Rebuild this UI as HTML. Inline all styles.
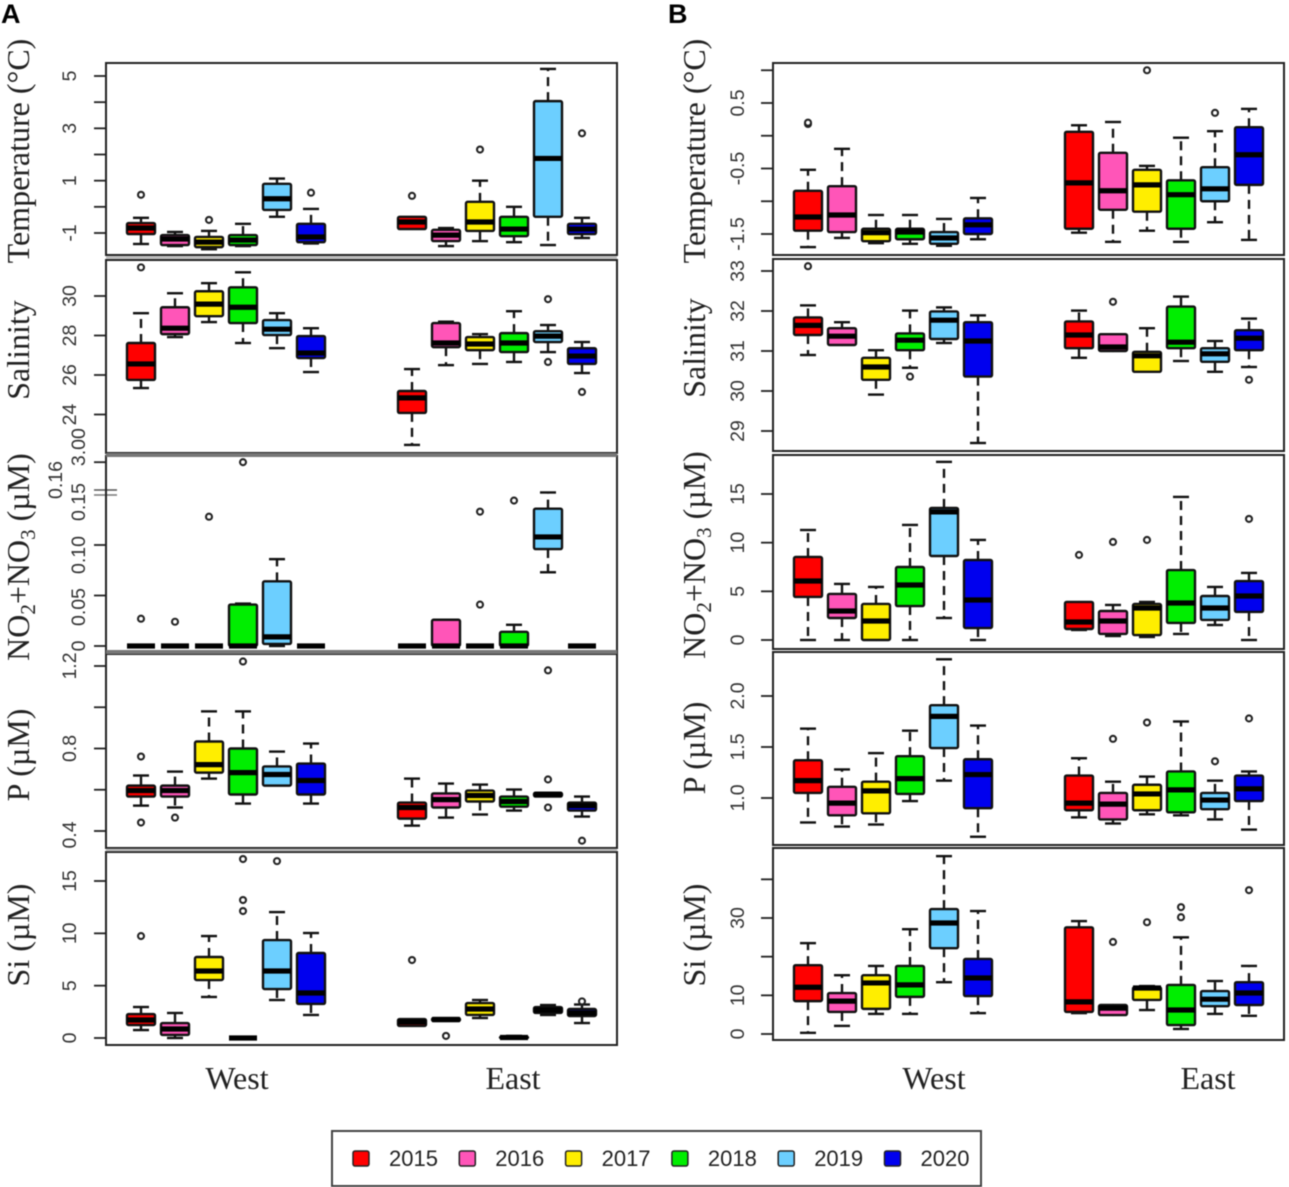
<!DOCTYPE html>
<html lang="en">
<head>
<meta charset="utf-8">
<title>Boxplots of water properties, West and East, 2015–2020</title>
<style>
html,body{margin:0;padding:0;background:#fff;width:1289px;height:1187px;overflow:hidden}
svg{display:block;filter:blur(0.6px)}
.ax{font-family:"Liberation Serif",serif;font-size:32px;fill:#222}
.grp{font-family:"Liberation Serif",serif;font-size:32px;fill:#222}
.tick{font-family:"Liberation Sans",sans-serif;font-size:19.5px;fill:#333}
.leg{font-family:"Liberation Sans",sans-serif;font-size:22px;fill:#222}
.pl{font-family:"Liberation Sans",sans-serif;font-size:27px;font-weight:bold;fill:#000}
</style>
</head>
<body>
<svg id="chart" xmlns="http://www.w3.org/2000/svg" width="1289" height="1187" viewBox="0 0 1289 1187">
  <text class="pl" x="1" y="23">A</text>
  <text class="pl" x="668" y="23">B</text>

  <text class="ax" transform="translate(29,151) rotate(-90)" text-anchor="middle">Temperature (°C)</text>
  <text class="ax" transform="translate(29,350) rotate(-90)" text-anchor="middle">Salinity</text>
  <text class="ax" transform="translate(29,557) rotate(-90)" text-anchor="middle">NO<tspan dy="6" font-size="21">2</tspan><tspan dy="-6">+NO</tspan><tspan dy="6" font-size="21">3</tspan><tspan dy="-6"> (µM)</tspan></text>
  <text class="ax" transform="translate(29,755) rotate(-90)" text-anchor="middle">P (µM)</text>
  <text class="ax" transform="translate(29,935) rotate(-90)" text-anchor="middle">Si (µM)</text>

  <text class="ax" transform="translate(705,151) rotate(-90)" text-anchor="middle">Temperature (°C)</text>
  <text class="ax" transform="translate(705,348) rotate(-90)" text-anchor="middle">Salinity</text>
  <text class="ax" transform="translate(705,555) rotate(-90)" text-anchor="middle">NO<tspan dy="6" font-size="21">2</tspan><tspan dy="-6">+NO</tspan><tspan dy="6" font-size="21">3</tspan><tspan dy="-6"> (µM)</tspan></text>
  <text class="ax" transform="translate(705,748) rotate(-90)" text-anchor="middle">P (µM)</text>
  <text class="ax" transform="translate(705,935) rotate(-90)" text-anchor="middle">Si (µM)</text>

  <text class="grp" x="237" y="1089" text-anchor="middle">West</text>
  <text class="grp" x="513" y="1089" text-anchor="middle">East</text>
  <text class="grp" x="934" y="1089" text-anchor="middle">West</text>
  <text class="grp" x="1208" y="1089" text-anchor="middle">East</text>

  <text class="tick" transform="translate(62,480) rotate(-90)" text-anchor="middle">0.16</text>
  <line x1="94" x2="117" y1="490" y2="490" stroke="#555" stroke-width="1.5"/>
  <line x1="94" x2="117" y1="495" y2="495" stroke="#777" stroke-width="1.5"/>

  <g id="plots"></g>
  <g id="legend"></g>
</svg>
<script>
// Categories
const years = ["2015", "2016", "2017", "2018", "2019", "2020"];
const regions = ["west", "east"];
const yearColors = ["#ff0000", "#ff55b8", "#ffee00", "#00ee00", "#6ccfff", "#0000ee"];

// Each row: whisker-low, q1, median, q3, whisker-high, then any outliers.
// Twelve rows: six West years, then six East years.
const tempA = [
  [-1.42,-1.04,-0.81,-0.62,-0.42,0.46],[-1.5,-1.46,-1.23,-1.08,-0.96],[-1.62,-1.54,-1.35,-1.15,-0.92,-0.5],
  [-1.5,-1.46,-1.27,-1.08,-0.65],[-0.38,-0.12,0.31,0.88,1.08],[-1.4,-1.35,-1.15,-0.65,-0.08,0.54],
  [-0.85,-0.85,-0.58,-0.38,-0.38,0.42],[-1.5,-1.31,-1.08,-0.88,-0.81],[-1.31,-0.92,-0.58,0.19,1.0,2.19],
  [-1.35,-1.12,-0.85,-0.38,0],[-1.46,-0.38,1.85,4.04,5.27],[-1.19,-1.04,-0.85,-0.65,-0.42,2.81]
];
const salA = [
  [25.34,25.75,26.56,27.62,29.13,31.45],[27.92,28.07,28.37,29.43,30.14],[28.68,28.98,29.59,30.24,30.65],
  [27.62,28.63,29.43,30.44,31.2],[27.36,28.02,28.32,28.78,29.13],[26.15,26.86,27.11,27.97,28.37],
  [22.46,24.08,24.84,25.19,26.3],[26.5,27.41,27.62,28.63,28.7],[26.56,27.26,27.57,27.92,28.07],
  [26.66,27.16,27.62,28.12,29.23],[27.16,27.67,27.97,28.22,28.53,29.84,26.66],[26.1,26.56,26.96,27.36,27.67,25.14]
];
const nitA = [
  [0,0,0,0,0,0.027],[0,0,0,0,0,0.024],[0,0,0,0,0,0.128],
  [0,0,0,0.041,0.042,0.182],[0,0.002,0.009,0.064,0.086],[0,0,0,0,0],
  [0,0,0,0,0],[0,0,0,0.026,0.026],[0,0,0,0,0,0.133,0.041],
  [0,0,0,0.014,0.021,0.144],[0.073,0.096,0.108,0.136,0.152],[0,0,0,0,0]
];
const phoA = [
  [0.523,0.567,0.596,0.62,0.669,0.761,0.441],[0.514,0.567,0.596,0.62,0.688,0.465],[0.654,0.683,0.722,0.834,0.98],
  [0.533,0.577,0.683,0.8,0.98,1.222],[0.62,0.62,0.674,0.713,0.785],[0.533,0.577,0.645,0.727,0.824],
  [0.426,0.46,0.514,0.538,0.654],[0.465,0.514,0.552,0.582,0.63],[0.48,0.543,0.572,0.596,0.625],
  [0.499,0.518,0.543,0.567,0.601],[0.567,0.567,0.577,0.586,0.586,0.65,0.514,1.179],[0.47,0.499,0.523,0.538,0.567,0.353]
];
const silA = [
  [0.76,1.24,1.72,2.29,2.96,9.74],[0,0.29,0.86,1.43,2.39],[3.92,5.54,6.4,7.74,9.74],
  [0,0,0,0,0,17.1,13.18,12.13],[3.63,4.68,6.4,9.36,12.03,16.9],[2.2,3.25,4.3,8.12,10.03],
  [1.15,1.15,1.53,1.81,1.81,7.45],[1.62,1.62,1.77,1.9,1.9,0.2],[1.91,2.2,2.77,3.34,3.63],
  [0,0,0.05,0.1,0.2],[2.2,2.39,2.67,2.96,3.15],[1.43,2.1,2.39,2.77,3.2,3.5]
];
const tempB = [
  [-1.7,-1.45,-1.24,-0.84,-0.52,0.18,0.2],[-1.56,-1.47,-1.21,-0.77,-0.2],[-1.64,-1.61,-1.48,-1.42,-1.21],
  [-1.65,-1.58,-1.47,-1.42,-1.21],[-1.68,-1.65,-1.56,-1.47,-1.27],[-1.58,-1.5,-1.36,-1.26,-0.95],
  [-1.48,-1.42,-0.72,0.06,0.16],[-1.62,-1.13,-0.84,-0.26,0.21],[-1.45,-1.16,-0.75,-0.52,-0.46,1.0],
  [-1.62,-1.42,-0.9,-0.68,-0.03],[-1.32,-1,-0.81,-0.48,0.07,0.35],[-1.59,-0.75,-0.29,0.13,0.41]
];
const salB = [
  [30.9,31.4,31.64,31.84,32.14,33.12],[31.15,31.15,31.37,31.57,31.72],[29.91,30.28,30.6,30.83,31.02],
  [30.58,31.02,31.27,31.44,32.01,30.36],[31.2,31.3,31.77,31.99,32.09],[28.7,30.36,31.25,31.72,31.89],
  [30.83,31.07,31.4,31.74,32.01],[31,31,31.1,31.42,31.42,32.23],[30.48,30.48,30.88,30.98,31.57],
  [30.75,31.07,31.22,32.11,32.36],[30.48,30.73,30.93,31.07,31.25],[30.6,31.02,31.32,31.52,31.81,30.28]
];
const nitB = [
  [0,4.42,6.06,8.53,11.3],[0,2.26,2.98,4.73,5.76],[0,0,1.95,3.7,5.45],
  [0,3.49,5.65,7.5,11.82],[2.26,8.63,13.16,13.57,18.3],[0,1.23,4.11,8.22,10.28],
  [1.03,1.13,1.85,3.91,3.91,8.74],[0.41,0.62,1.95,2.98,3.6,10.07],[0.31,0.51,3.29,3.7,3.91,10.28],
  [0.62,1.75,3.8,7.19,14.7],[1.54,2.06,3.29,4.52,5.45],[0,2.88,4.52,6.06,6.89,12.44]
];
const phoB = [
  [0.76,1.05,1.17,1.37,1.68],[0.72,0.83,0.95,1.11,1.28],[0.74,0.85,1.07,1.16,1.44],
  [0.97,1.04,1.19,1.41,1.66],[1.17,1.49,1.8,1.91,2.36],[0.62,0.9,1.23,1.38,1.71],
  [0.81,0.88,0.95,1.22,1.39],[0.75,0.79,0.94,1.05,1.16,1.58],[0.84,0.88,1.04,1.13,1.21,1.74],
  [0.83,0.86,1.08,1.26,1.75],[0.79,0.89,0.98,1.05,1.17,1.36],[0.69,0.97,1.09,1.22,1.26,1.78]
];
const silB = [
  [0.3,8.5,12.1,17.8,23.5],[2.1,5.7,8.5,10.6,15.2],[5.2,6.5,13.2,15.2,17.6],
  [5.2,9.6,12.7,17.6,27.1],[13.4,22.2,28.7,32.3,46],[5.4,9.8,14.5,19.4,31.8],
  [5.4,5.7,8.3,27.6,29.2],[4.9,4.9,6.7,7.5,7.5,23.8],[6.2,8.8,11.9,12.1,12.4,28.9],
  [1.3,2.3,6.2,12.7,25,32.8,30.2],[5.2,7.2,9,11.1,13.7],[4.7,7.5,10.6,13.4,17.6,37.2]
];

// Tick values and printed tick labels
const tempATicks = [5,4,3,2,1,0,-1];
const tempALabels = ["5","","3","","1","","-1"];
const salATicks = [30,28,26,24];
const salALabels = ["30","28","26","24"];
const nitATicks = [0,0.05,0.1,0.15,0.182];
const nitALabels = ["0","0.05","0.10","0.15","3.00"];
const phoATicks = [1.2,1.0,0.8,0.6,0.4];
const phoALabels = ["1.2","","0.8","","0.4"];
const silATicks = [15,10,5,0];
const silALabels = ["15","10","5","0"];
const tempBTicks = [1,0.5,0,-0.5,-1,-1.5];
const tempBLabels = ["","0.5","","-0.5","","-1.5"];
const salBTicks = [33,32,31,30,29];
const salBLabels = ["33","32","31","30","29"];
const nitBTicks = [15,10,5,0];
const nitBLabels = ["15","10","5","0"];
const phoBTicks = [2,1.5,1];
const phoBLabels = ["2.0","1.5","1.0"];
const silBTicks = [40,30,20,10,0];
const silBLabels = ["","30","","10","0"];

const svgNS = "http://www.w3.org/2000/svg";
const plots = document.getElementById("plots");
const legend = document.getElementById("legend");

function mk(tag, attrs, parent) {
  const el = document.createElementNS(svgNS, tag);
  for (const k in attrs) el.setAttribute(k, attrs[k]);
  parent.appendChild(el);
  return el;
}

function makeScale(v0, p0, v1, p1) {
  return function (v) { return p0 + (v - v0) * (p1 - p0) / (v1 - v0); };
}

function drawFrame(p, group) {
  const frame = mk("rect", {x: p.left, y: p.top, width: p.right - p.left, height: p.bottom - p.top, fill: "none", stroke: "#222", "stroke-width": 2}, group);
  
  
}

function drawAxis(p, group) {
  const y = makeScale(p.v0, p.p0, p.v1, p.p1);
  p.ticks.forEach(function (t, i) {
    const py = y(t);
    if (p.skipTick !== t) {
      const tick = mk("line", {x1: p.left - 12, x2: p.left, y1: py, y2: py, stroke: "#222", "stroke-width": 1.8}, group);
      
      
    }
    if (p.labels[i]) {
      const ly = py + (p.labelNudge ? p.labelNudge[i] : 0);
      const label = mk("text", {"class": "tick", "text-anchor": "middle", transform: "translate(" + p.labelX + "," + ly + ") rotate(-90)"}, group);
      label.textContent = p.labels[i];
      
      
    }
  });
}

function drawBox(row, cx, color, y, group) {
  const half = 14, capHalf = 8;
  const lo = y(row[0]), q1 = y(row[1]), med = y(row[2]), q3 = y(row[3]), hi = y(row[4]);

  const whiskUp = mk("line", {x1: cx, x2: cx, y1: q3, y2: hi, stroke: "#111", "stroke-width": 2.4, "stroke-dasharray": "9 6"}, group);
  
  

  const whiskLo = mk("line", {x1: cx, x2: cx, y1: q1, y2: lo, stroke: "#111", "stroke-width": 2.4, "stroke-dasharray": "9 6"}, group);
  
  

  if (hi < q3 - 0.5) {
    const capUp = mk("line", {x1: cx - capHalf, x2: cx + capHalf, y1: hi, y2: hi, stroke: "#111", "stroke-width": 2.4}, group);
    
    
  }
  if (lo > q1 + 0.5) {
    const capLo = mk("line", {x1: cx - capHalf, x2: cx + capHalf, y1: lo, y2: lo, stroke: "#111", "stroke-width": 2.4}, group);
    
    
  }

  const box = mk("rect", {x: cx - half, y: q3, width: half * 2, height: Math.max(q1 - q3, 0), fill: color, stroke: "#111", "stroke-width": 2.4, rx: 1.5}, group);
  
  

  const median = mk("line", {x1: cx - half, x2: cx + half, y1: med, y2: med, stroke: "#000", "stroke-width": 5.2}, group);
  
  

  row.slice(5).forEach(function (o) {
    const dot = mk("circle", {cx: cx, cy: y(o), r: 3, fill: "#fff", stroke: "#222", "stroke-width": 2.1}, group);
    
    
  });
}

function drawPanel(p) {
  const g = mk("g", {}, plots);
  
  
  drawFrame(p, g);
  drawAxis(p, g);
  const y = makeScale(p.v0, p.p0, p.v1, p.p1);
  p.data.forEach(function (row, i) {
    const yearIdx = i % years.length;
    const regionIdx = i < years.length ? 0 : 1;
    const cx = p.xStart[regionIdx] + yearIdx * 34;
    const bg = mk("g", {}, g);
    
    
    drawBox(row, cx, yearColors[yearIdx], y, bg);
  });
}

const xA = [141, 412];
const xB = [808, 1079];
const panelList = [
  {name:"panel-a-temperature", left:106, right:617, top:63, bottom:255, v0:-1, p0:233, v1:5, p1:76, ticks:tempATicks, labels:tempALabels, data:tempA, xStart:xA, labelX:76},
  {name:"panel-a-salinity", left:106, right:617, top:260, bottom:453, v0:26, p0:375, v1:30, p1:296, ticks:salATicks, labels:salALabels, data:salA, xStart:xA, labelX:76},
  {name:"panel-a-nitrate", left:106, right:617, top:456, bottom:652, v0:0, p0:646, v1:0.1, p1:545, ticks:nitATicks, labels:nitALabels, data:nitA, xStart:xA, labelX:85, labelNudge:[0,11.5,10,7.5,-15], skipTick:0.15},
  {name:"panel-a-phosphate", left:106, right:617, top:654, bottom:848, v0:0.4, p0:831, v1:1.2, p1:666, ticks:phoATicks, labels:phoALabels, data:phoA, xStart:xA, labelX:76, labelNudge:[0,0,0,0,4]},
  {name:"panel-a-silicate", left:106, right:617, top:852, bottom:1045, v0:0, p0:1038, v1:15, p1:881, ticks:silATicks, labels:silALabels, data:silA, xStart:xA, labelX:76},
  {name:"panel-b-temperature", left:773, right:1284, top:63, bottom:255, v0:0.5, p0:103, v1:-1.5, p1:234, ticks:tempBTicks, labels:tempBLabels, data:tempB, xStart:xB, labelX:744},
  {name:"panel-b-salinity", left:773, right:1284, top:259, bottom:451, v0:31, p0:351, v1:29, p1:431, ticks:salBTicks, labels:salBLabels, data:salB, xStart:xB, labelX:744},
  {name:"panel-b-nitrate", left:773, right:1284, top:455, bottom:649, v0:0, p0:640, v1:15, p1:494, ticks:nitBTicks, labels:nitBLabels, data:nitB, xStart:xB, labelX:744},
  {name:"panel-b-phosphate", left:773, right:1284, top:652, bottom:845, v0:1, p0:798, v1:2, p1:696, ticks:phoBTicks, labels:phoBLabels, data:phoB, xStart:xB, labelX:744},
  {name:"panel-b-silicate", left:773, right:1284, top:848, bottom:1040, v0:0, p0:1034, v1:30, p1:918, ticks:silBTicks, labels:silBLabels, data:silB, xStart:xB, labelX:744}
];
panelList.forEach(drawPanel);

// Thick gray separators around the nitrate panel in A
[455, 652].forEach(function (sy) {
  const sep = mk("line", {x1: 106, x2: 617, y1: sy, y2: sy, stroke: "#777", "stroke-width": 4}, plots);
  
  
});
// Light gray seams in the narrow gaps between the other panels
[257.5, 850].forEach(function (sy) {
  const seam = mk("line", {x1: 106, x2: 617, y1: sy, y2: sy, stroke: "#bbb", "stroke-width": 2.5}, plots);
  
  
});

// Legend
const legendFrame = mk("rect", {x: 332, y: 1131, width: 649, height: 55, fill: "#fff", stroke: "#444", "stroke-width": 2}, legend);


years.forEach(function (yr, i) {
  const lx = 353 + i * 106.3;
  const entry = mk("g", {}, legend);
  
  
  const sw = mk("rect", {x: lx, y: 1151, width: 16, height: 15, rx: 2, fill: yearColors[i], stroke: "#222", "stroke-width": 1.5}, entry);
  
  
  const tx = mk("text", {"class": "leg", x: lx + 36, y: 1166}, entry);
  tx.textContent = yr;
  
  
});
</script>
</body>
</html>
